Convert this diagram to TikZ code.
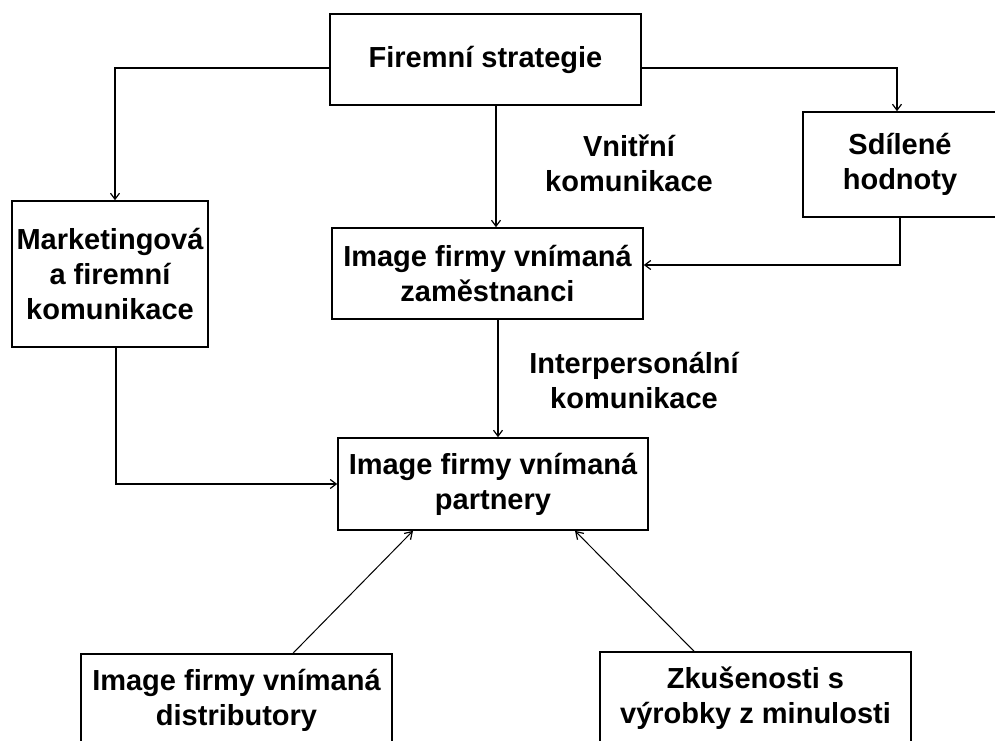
\documentclass[tikz,border=0pt]{standalone}
\usepackage{fontspec}
\setmainfont{Liberation Sans}
\usetikzlibrary{arrows.meta}
\begin{document}
\begin{tikzpicture}[x=1pt,y=-1pt,
  box/.style={draw=black, line width=1.6pt, rectangle, inner sep=0pt, align=center,
    font=\fontsize{29}{35}\selectfont\bfseries},
  lbl/.style={align=center, inner sep=0pt, font=\fontsize{29}{35}\selectfont\bfseries},
  conn/.style={line width=1.6pt, -{Straight Barb[length=6pt,width=9pt,line width=1.2pt]}},
  diag/.style={line width=1pt, -{Straight Barb[length=7pt,width=9pt,line width=1.2pt]}}]
\useasboundingbox (0,0) rectangle (995,740);
\clip (0,0) rectangle (995,740);
\node[box, minimum width=311pt, minimum height=91pt] (top) at (485.5,59.5) {\raisebox{-3pt}{Firemní strategie}};
\node[box, minimum width=196pt, minimum height=146pt] (mkt) at (110,274) {Marketingová\\a firemní\\komunikace};
\node[box, minimum width=194pt, minimum height=105pt] (sdil) at (900,164.5) {Sdílené\\hodnoty};
\node[box, minimum width=311pt, minimum height=91pt] (mid) at (487.5,273.5) {Image firmy vnímaná\\zaměstnanci};
\node[box, minimum width=310pt, minimum height=92pt] (part) at (493,484) {Image firmy vnímaná\\partnery};
\node[box, minimum width=311pt, minimum height=92pt] (dist) at (236.5,700) {Image firmy vnímaná\\distributory};
\node[box, minimum width=311pt, minimum height=92pt] (zk) at (755.5,698) {Zkušenosti s\\výrobky z minulosti};
\node[lbl] (l1) at (629,163) {Vnitřní\\komunikace};
\node[lbl] (l2) at (634,380) {Interpersonální\\komunikace};
\draw[conn] ([yshift=-8.5pt]top.west) -| ([xshift=5pt]mkt.north);
\draw[conn] ([yshift=-8.5pt]top.east) -| ([xshift=-3pt]sdil.north);
\draw[conn] ([xshift=10.5pt]top.south) -- ([xshift=10.5pt]top.south |- mid.north);
\draw[conn] (sdil.south) |- ([yshift=8.5pt]mid.east);
\draw[conn] ([xshift=10.5pt]mid.south) -- ([xshift=10.5pt]mid.south |- part.north);
\draw[conn] ([xshift=6pt]mkt.south) |- (part.west);
\draw[diag] ([xshift=56.5pt]dist.north) -- ([xshift=-80pt]part.south);
\draw[diag] ([xshift=-61.5pt]zk.north) -- ([xshift=82pt]part.south);
\end{tikzpicture}
\end{document}
